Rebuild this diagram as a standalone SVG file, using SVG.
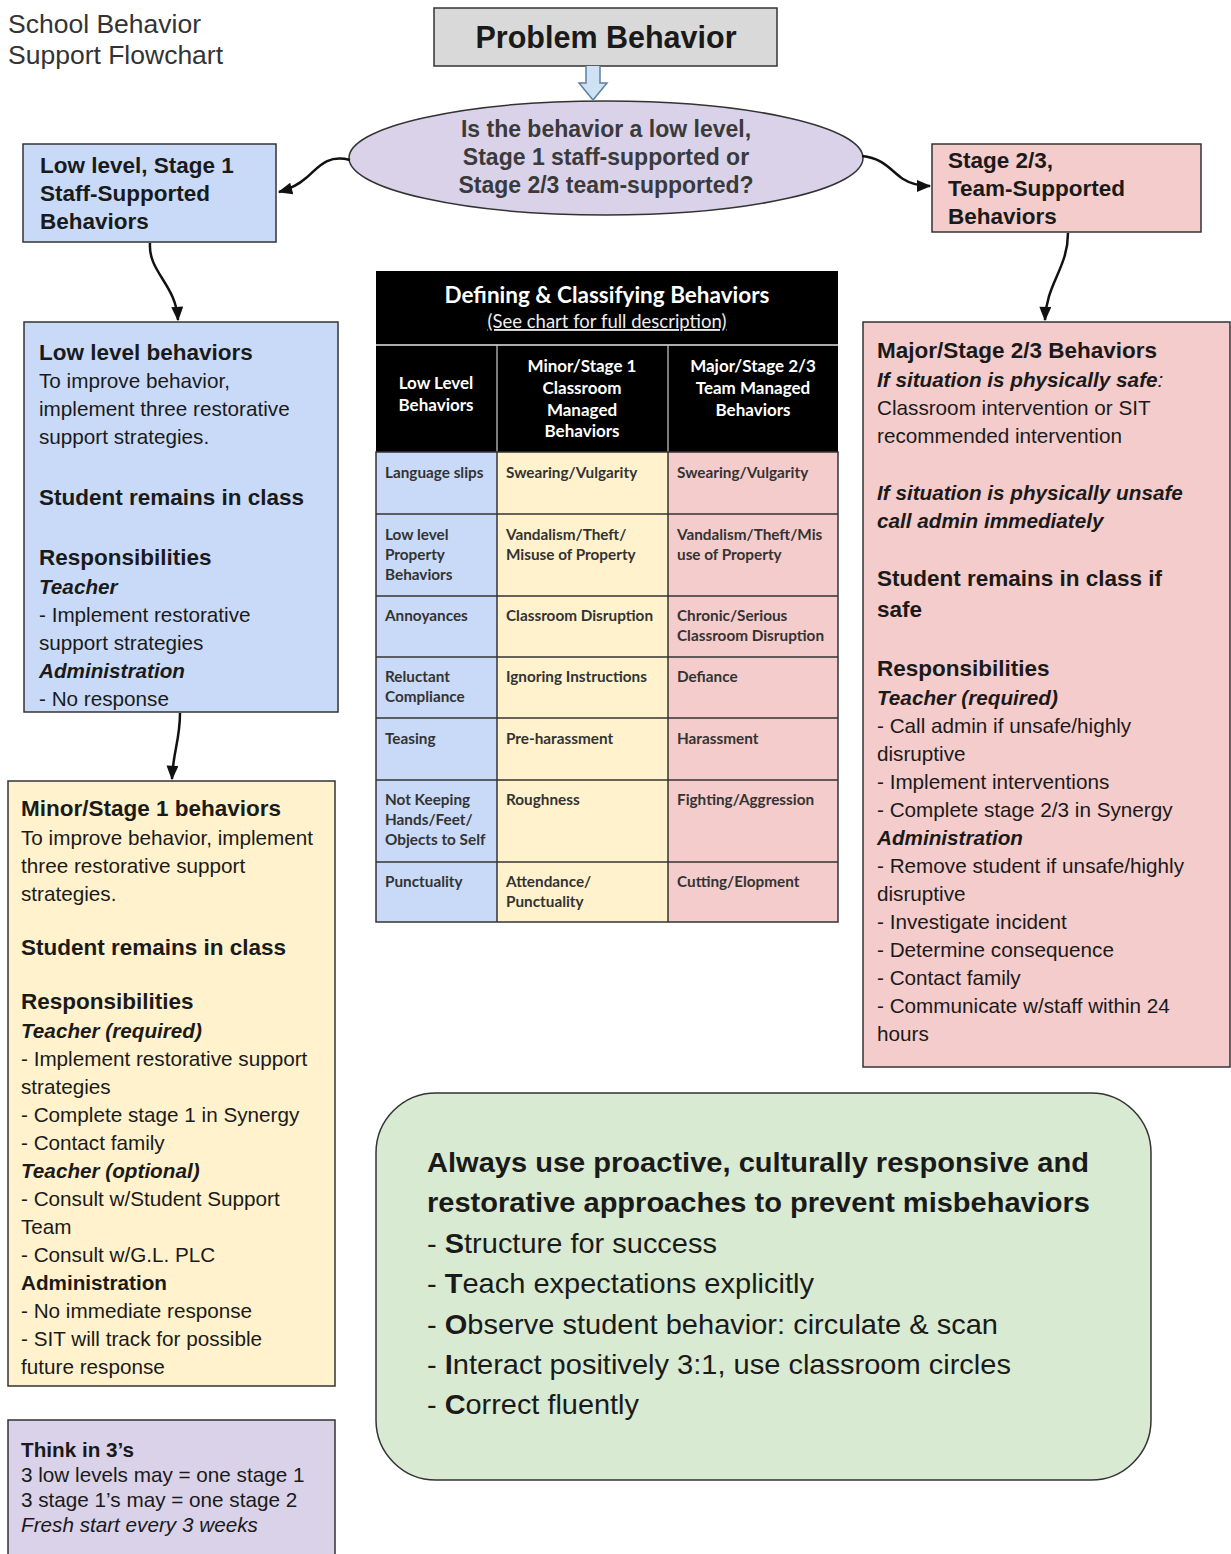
<svg xmlns="http://www.w3.org/2000/svg" width="1231" height="1554" viewBox="0 0 1231 1554">
<style>
text{font-family:"Liberation Sans",Arial,sans-serif;fill:#1a1a1a}
.reg{font-size:20.7px}
.b{font-size:22.5px;font-weight:bold}
.bi{font-size:20.7px;font-weight:bold;font-style:italic}
.it{font-size:20.7px;font-style:italic}
.box{stroke:#333;stroke-width:1.5}
.tb{font-family:Lato,"Open Sans",sans-serif;font-weight:bold;font-size:15.3px;fill:#333}
.th{font-family:Lato,"Open Sans",sans-serif;font-weight:bold;font-size:17px;fill:#fff;text-anchor:middle}
.conn{fill:none;stroke:#111;stroke-width:2.5}
.gl{font-size:28px}
</style>
<defs>
<marker id="ah" viewBox="0 0 12 10" refX="11" refY="5" markerWidth="15" markerHeight="12" markerUnits="userSpaceOnUse" orient="auto">
<path d="M0,0 L12,5 L0,10 z" fill="#111"/>
</marker>
</defs>

<g id="title">
<text x="8" y="33" style="font-size:26.5px;fill:#333">School Behavior</text>
<text x="8" y="64" style="font-size:26.5px;fill:#333">Support Flowchart</text>
</g>

<g id="problem">
<rect class="box" x="434" y="8" width="343" height="58" fill="#d9d9d9"/>
<text x="606" y="48" text-anchor="middle" style="font-size:30.5px;font-weight:bold">Problem Behavior</text>
</g>

<g id="question">
<ellipse class="box" cx="606" cy="158" rx="257" ry="57" fill="#d9d2e9"/>
<text x="606" y="137" text-anchor="middle" style="font-size:23px;font-weight:bold;fill:#3a3a3a">Is the behavior a low level,</text>
<text x="606" y="165" text-anchor="middle" style="font-size:23px;font-weight:bold;fill:#3a3a3a">Stage 1 staff-supported or</text>
<text x="606" y="193" text-anchor="middle" style="font-size:23px;font-weight:bold;fill:#3a3a3a">Stage 2/3 team-supported?</text>
</g>

<g id="stage1-head">
<rect class="box" x="23" y="144" width="253" height="98" fill="#c9daf8"/>
<text class="b" x="40" y="173">Low level, Stage 1</text>
<text class="b" x="40" y="201">Staff-Supported</text>
<text class="b" x="40" y="229">Behaviors</text>
</g>

<g id="stage23-head">
<rect class="box" x="932" y="144" width="269" height="88" fill="#f4cccc"/>
<text class="b" x="948" y="168">Stage 2/3,</text>
<text class="b" x="948" y="196">Team-Supported</text>
<text class="b" x="948" y="224">Behaviors</text>
</g>

<g id="low-level">
<rect class="box" x="24" y="322" width="314" height="390" fill="#c9daf8"/>
<text class="b" x="39" y="360">Low level behaviors</text>
<text class="reg" x="39" y="388">To improve behavior,</text>
<text class="reg" x="39" y="416">implement three restorative</text>
<text class="reg" x="39" y="444">support strategies.</text>
<text class="b" x="39" y="505">Student remains in class</text>
<text class="b" x="39" y="565">Responsibilities</text>
<text class="bi" x="39" y="594">Teacher</text>
<text class="reg" x="39" y="622">- Implement restorative</text>
<text class="reg" x="39" y="650">support strategies</text>
<text class="bi" x="39" y="678">Administration</text>
<text class="reg" x="39" y="706">- No response</text>
</g>

<g id="minor">
<rect class="box" x="8" y="781" width="327" height="605" fill="#fff2cc"/>
<text class="b" x="21" y="816">Minor/Stage 1 behaviors</text>
<text class="reg" x="21" y="845">To improve behavior, implement</text>
<text class="reg" x="21" y="873">three restorative support</text>
<text class="reg" x="21" y="901">strategies.</text>
<text class="b" x="21" y="955">Student remains in class</text>
<text class="b" x="21" y="1009">Responsibilities</text>
<text class="bi" x="21" y="1038">Teacher (required)</text>
<text class="reg" x="21" y="1066">- Implement restorative support</text>
<text class="reg" x="21" y="1094">strategies</text>
<text class="reg" x="21" y="1122">- Complete stage 1 in Synergy</text>
<text class="reg" x="21" y="1150">- Contact family</text>
<text class="bi" x="21" y="1178">Teacher (optional)</text>
<text class="reg" x="21" y="1206">- Consult w/Student Support</text>
<text class="reg" x="21" y="1234">Team</text>
<text class="reg" x="21" y="1262">- Consult w/G.L. PLC</text>
<text class="reg" x="21" y="1290" style="font-weight:bold">Administration</text>
<text class="reg" x="21" y="1318">- No immediate response</text>
<text class="reg" x="21" y="1346">- SIT will track for possible</text>
<text class="reg" x="21" y="1374">future response</text>
</g>

<g id="think">
<rect class="box" x="8" y="1420" width="327" height="140" fill="#d9d2e9"/>
<text class="reg" x="21" y="1457" style="font-weight:bold">Think in 3’s</text>
<text class="reg" x="21" y="1482">3 low levels may = one stage 1</text>
<text class="reg" x="21" y="1507">3 stage 1’s may = one stage 2</text>
<text class="it" x="21" y="1532">Fresh start every 3 weeks</text>
</g>

<g id="major">
<rect class="box" x="863" y="322" width="367" height="745" fill="#f4cccc"/>
<text class="b" x="877" y="358">Major/Stage 2/3 Behaviors</text>
<text class="bi" x="877" y="387">If situation is physically safe<tspan style="font-weight:normal">:</tspan></text>
<text class="reg" x="877" y="415">Classroom intervention or SIT</text>
<text class="reg" x="877" y="443">recommended intervention</text>
<text class="bi" x="877" y="500">If situation is physically unsafe</text>
<text class="bi" x="877" y="528">call admin immediately</text>
<text class="b" x="877" y="586">Student remains in class if</text>
<text class="b" x="877" y="617">safe</text>
<text class="b" x="877" y="676">Responsibilities</text>
<text class="bi" x="877" y="705">Teacher (required)</text>
<text class="reg" x="877" y="733">- Call admin if unsafe/highly</text>
<text class="reg" x="877" y="761">disruptive</text>
<text class="reg" x="877" y="789">- Implement interventions</text>
<text class="reg" x="877" y="817">- Complete stage 2/3 in Synergy</text>
<text class="bi" x="877" y="845">Administration</text>
<text class="reg" x="877" y="873">- Remove student if unsafe/highly</text>
<text class="reg" x="877" y="901">disruptive</text>
<text class="reg" x="877" y="929">- Investigate incident</text>
<text class="reg" x="877" y="957">- Determine consequence</text>
<text class="reg" x="877" y="985">- Contact family</text>
<text class="reg" x="877" y="1013">- Communicate w/staff within 24</text>
<text class="reg" x="877" y="1041">hours</text>
</g>

<g id="table">
<rect x="376" y="271" width="462" height="181" fill="#000"/>
<line x1="376" y1="345" x2="838" y2="345" stroke="#e6e6e6" stroke-width="1.5"/>
<line x1="497" y1="345" x2="497" y2="452" stroke="#cfcfcf" stroke-width="1.2"/>
<line x1="668" y1="345" x2="668" y2="452" stroke="#cfcfcf" stroke-width="1.2"/>
<text x="607" y="303" style="font-family:Lato,'Open Sans',sans-serif;font-weight:bold;font-size:22.5px;fill:#fff" text-anchor="middle">Defining &amp; Classifying Behaviors</text>
<text x="607" y="328" style="font-family:Lato,'Open Sans',sans-serif;font-size:18.5px;fill:#eee;text-decoration:underline" text-anchor="middle">(See chart for full description)</text>
<text class="th" x="436" y="389">Low Level</text>
<text class="th" x="436" y="411">Behaviors</text>
<text class="th" x="582" y="372">Minor/Stage 1</text>
<text class="th" x="582" y="394">Classroom</text>
<text class="th" x="582" y="416">Managed</text>
<text class="th" x="582" y="437">Behaviors</text>
<text class="th" x="753" y="372">Major/Stage 2/3</text>
<text class="th" x="753" y="394">Team Managed</text>
<text class="th" x="753" y="416">Behaviors</text>
<rect x="376" y="452" width="121" height="470" fill="#c9daf8"/>
<rect x="497" y="452" width="171" height="470" fill="#fff2cc"/>
<rect x="668" y="452" width="170" height="470" fill="#f4cccc"/>
<g stroke="#333" stroke-width="1.5" fill="none">
<rect x="376" y="452" width="462" height="470"/>
<line x1="497" y1="452" x2="497" y2="922"/>
<line x1="668" y1="452" x2="668" y2="922"/>
<line x1="376" y1="514" x2="838" y2="514"/>
<line x1="376" y1="596" x2="838" y2="596"/>
<line x1="376" y1="657" x2="838" y2="657"/>
<line x1="376" y1="718" x2="838" y2="718"/>
<line x1="376" y1="780" x2="838" y2="780"/>
<line x1="376" y1="862" x2="838" y2="862"/>
</g>
<text class="tb" x="385" y="478">Language slips</text>
<text class="tb" x="506" y="478">Swearing/Vulgarity</text>
<text class="tb" x="677" y="478">Swearing/Vulgarity</text>
<text class="tb" x="385" y="540">Low level</text>
<text class="tb" x="385" y="560">Property</text>
<text class="tb" x="385" y="580">Behaviors</text>
<text class="tb" x="506" y="540">Vandalism/Theft/</text>
<text class="tb" x="506" y="560">Misuse of Property</text>
<text class="tb" x="677" y="540">Vandalism/Theft/Mis</text>
<text class="tb" x="677" y="560">use of Property</text>
<text class="tb" x="385" y="621">Annoyances</text>
<text class="tb" x="506" y="621">Classroom Disruption</text>
<text class="tb" x="677" y="621">Chronic/Serious</text>
<text class="tb" x="677" y="641">Classroom Disruption</text>
<text class="tb" x="385" y="682">Reluctant</text>
<text class="tb" x="385" y="702">Compliance</text>
<text class="tb" x="506" y="682">Ignoring Instructions</text>
<text class="tb" x="677" y="682">Defiance</text>
<text class="tb" x="385" y="744">Teasing</text>
<text class="tb" x="506" y="744">Pre-harassment</text>
<text class="tb" x="677" y="744">Harassment</text>
<text class="tb" x="385" y="805">Not Keeping</text>
<text class="tb" x="385" y="825">Hands/Feet/</text>
<text class="tb" x="385" y="845">Objects to Self</text>
<text class="tb" x="506" y="805">Roughness</text>
<text class="tb" x="677" y="805">Fighting/Aggression</text>
<text class="tb" x="385" y="887">Punctuality</text>
<text class="tb" x="506" y="887">Attendance/</text>
<text class="tb" x="506" y="907">Punctuality</text>
<text class="tb" x="677" y="887">Cutting/Elopment</text>
</g>

<g id="proactive">
<rect class="box" x="376" y="1093" width="775" height="387" rx="60" ry="60" fill="#d9ead3"/>
<text x="427" y="1172" style="font-size:27px;font-weight:bold" textLength="662" lengthAdjust="spacingAndGlyphs">Always use proactive, culturally responsive and</text>
<text x="427" y="1212" style="font-size:27px;font-weight:bold" textLength="663" lengthAdjust="spacingAndGlyphs">restorative approaches to prevent misbehaviors</text>
<text class="gl" x="427" y="1253" textLength="290" lengthAdjust="spacingAndGlyphs">- <tspan font-weight="bold">S</tspan>tructure for success</text>
<text class="gl" x="427" y="1293" textLength="387" lengthAdjust="spacingAndGlyphs">- <tspan font-weight="bold">T</tspan>each expectations explicitly</text>
<text class="gl" x="427" y="1334" textLength="571" lengthAdjust="spacingAndGlyphs">- <tspan font-weight="bold">O</tspan>bserve student behavior: circulate &amp; scan</text>
<text class="gl" x="427" y="1374" textLength="584" lengthAdjust="spacingAndGlyphs">- <tspan font-weight="bold">I</tspan>nteract positively 3:1, use classroom circles</text>
<text class="gl" x="427" y="1414" textLength="212" lengthAdjust="spacingAndGlyphs">- <tspan font-weight="bold">C</tspan>orrect fluently</text>
</g>

<g id="connectors">
<path d="M586,66 L586,83 L579,83 L593,100 L607,83 L600,83 L600,66" fill="#cfe2f3" stroke="#5f7fa3" stroke-width="1.5"/>
<path class="conn" marker-end="url(#ah)" d="M350,160 C326,154 318,168 306,178 C298,185 290,189 279,192"/>
<path class="conn" marker-end="url(#ah)" d="M862,156 C884,158 892,172 903,179 C911,184 919,186 930,186"/>
<path class="conn" marker-end="url(#ah)" d="M150,243 C148,272 176,284 178,320"/>
<path class="conn" marker-end="url(#ah)" d="M1068,233 C1068,268 1046,284 1045,320"/>
<path class="conn" marker-end="url(#ah)" d="M180,713 C180,740 173,752 172,779"/>
</g>
</svg>
